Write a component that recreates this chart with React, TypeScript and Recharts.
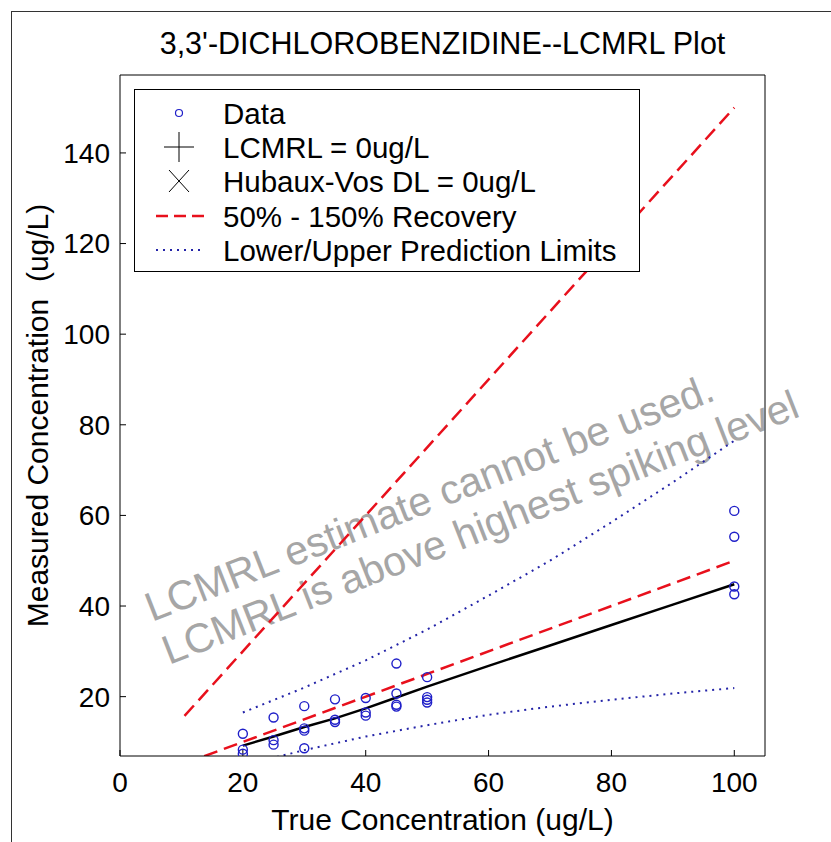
import { ComposedChart, Line, Scatter, XAxis, YAxis, Legend } from "recharts";

const FONT = '"Liberation Sans", Arial, Helvetica, sans-serif';

// replicate spikes: true concentration and measured result, ug/L
const SPIKE = [20, 20, 20, 25, 25, 25, 30, 30, 30, 30, 35, 35, 35, 40, 40, 40, 45, 45, 45, 45, 50, 50, 50, 50, 100, 100, 100, 100];
const MEASURED = [11.8, 8.3, 7.4, 15.4, 10.4, 9.4, 17.9, 13.0, 12.5, 8.6, 19.4, 14.9, 14.4, 19.7, 16.5, 15.8, 27.3, 20.7, 18.2, 17.8, 24.3, 19.9, 19.3, 18.7, 61.0, 55.3, 44.3, 42.6];

// fitted response
const FIT_X = [20, 25, 30, 35, 40, 45, 50, 60, 70, 80, 90, 100];
const FIT_Y = [9.2, 11.2, 13.3, 15.2, 17.4, 19.8, 22.2, 26.8, 31.3, 35.8, 40.3, 44.8];

// 50% / 150% recovery bounds
const RECOVERY_X = [10.5, 100];
const RECOVERY_LOW = [5.25, 50];
const RECOVERY_HIGH = [15.75, 150];

// prediction limits
const PL_X = [20, 30, 40, 50, 60, 70, 80, 90, 100];
const PL_UPPER = [16.5, 22.0, 28.0, 34.8, 42.3, 50.0, 58.5, 67.3, 76.5];
const PL_LOWER = [4.8, 8.2, 11.2, 13.7, 16.0, 17.8, 19.3, 20.7, 21.9];

const X_TICKS = [0, 20, 40, 60, 80, 100];
const Y_TICKS = [20, 40, 60, 80, 100, 120, 140];

const LEGEND_LABELS = [
  "Data",
  "LCMRL = 0ug/L",
  "Hubaux-Vos DL = 0ug/L",
  "50% - 150% Recovery",
  "Lower/Upper Prediction Limits",
];

const BLUE = "#1f1fc8";
const RED = "#e8101c";
const DOT_BLUE = "#2424a8";

const pairs = (xs: number[], ys: number[]) => xs.map((x, i) => ({ x, y: ys[i] }));

const dataPts = pairs(SPIKE, MEASURED);
const fit = pairs(FIT_X, FIT_Y);
const recLow = pairs(RECOVERY_X, RECOVERY_LOW);
const recHigh = pairs(RECOVERY_X, RECOVERY_HIGH);
const upper = pairs(PL_X, PL_UPPER);
const lower = pairs(PL_X, PL_LOWER);

const OpenCircle = (props: any) => (
  <circle cx={props.cx} cy={props.cy} r={4.5} fill="none" stroke={BLUE} strokeWidth={1.4} />
);

const LegendBox = () => {
  const rows = [23, 57, 91, 126, 160];
  const mx = 44;
  return (
    <div style={{ width: 506, height: 183, border: "1px solid #000", background: "#fff", boxSizing: "border-box" }}>
      <svg width={504} height={181} style={{ display: "block" }}>
        <circle cx={mx} cy={rows[0]} r={3.5} fill="none" stroke={BLUE} strokeWidth={1.2} />
        <line x1={mx - 15} x2={mx + 15} y1={rows[1]} y2={rows[1]} stroke="#000" />
        <line x1={mx} x2={mx} y1={rows[1] - 15} y2={rows[1] + 15} stroke="#000" />
        <line x1={mx - 10} x2={mx + 10} y1={rows[2] - 11} y2={rows[2] + 11} stroke="#000" />
        <line x1={mx - 10} x2={mx + 10} y1={rows[2] + 11} y2={rows[2] - 11} stroke="#000" />
        <line x1={21} x2={69} y1={rows[3]} y2={rows[3]} stroke={RED} strokeWidth={2.5} strokeDasharray="12 6" />
        <line x1={21} x2={69} y1={rows[4]} y2={rows[4]} stroke={DOT_BLUE} strokeWidth={2} strokeDasharray="2 5" />
        {LEGEND_LABELS.map((t, i) => (
          <text key={t} x={88} y={rows[i]} dominantBaseline="central" fontFamily={FONT} fontSize={29.5} fill="#000">
            {t}
          </text>
        ))}
      </svg>
    </div>
  );
};

export default function App() {
  const tickStyle = { fill: "#000", fontSize: 28, fontFamily: FONT };
  return (
    <div style={{ position: "relative", width: 831, height: 842, background: "#fff", overflow: "hidden" }}>
      <style>{`body{margin:0;overflow:hidden}`}</style>
      <div style={{ position: "absolute", left: 11, top: 11, width: 1000, height: 1000, border: "1px solid #333" }} />
      <div
        style={{
          position: "absolute",
          left: 120,
          width: 645,
          top: 25,
          textAlign: "center",
          fontFamily: FONT,
          fontSize: 30.5,
          lineHeight: "36px",
          color: "#000",
        }}
      >
        3,3'-DICHLOROBENZIDINE--LCMRL Plot
      </div>
      <svg width={831} height={842} style={{ position: "absolute", left: 0, top: 0 }}>
        <g fontFamily={FONT} fontSize={41} fill="#a6a6a6">
          <text x={152} y={622} transform="rotate(-21.5 152 622)">LCMRL estimate cannot be used.</text>
          <text x={169} y={665} transform="rotate(-21.5 169 665)">LCMRL is above highest spiking level</text>
        </g>
      </svg>
      <div style={{ position: "absolute", left: 0, top: 0 }}>
        <ComposedChart width={831} height={842} margin={{ top: 74, right: 65, bottom: 0, left: 0 }}>
          <XAxis
            xAxisId="b"
            type="number"
            dataKey="x"
            domain={[0, 105]}
            ticks={X_TICKS}
            height={86}
            tickSize={-6}
            tickMargin={22}
            tick={tickStyle}
            stroke="#000"
            axisLine={{ stroke: "#000" }}
            tickLine={{ stroke: "#000" }}
            label={{ value: "True Concentration (ug/L)", position: "insideBottom", offset: 12, fill: "#000", fontSize: 30, fontFamily: FONT }}
          />
          <XAxis
            xAxisId="t"
            orientation="top"
            type="number"
            dataKey="x"
            domain={[0, 105]}
            ticks={X_TICKS}
            height={1}
            tickSize={-6}
            tick={false}
            axisLine={{ stroke: "#000" }}
            tickLine={{ stroke: "#000" }}
          />
          <YAxis
            yAxisId="l"
            type="number"
            domain={[6.9, 157.2]}
            ticks={Y_TICKS}
            allowDataOverflow
            width={120}
            tickSize={-6}
            tickMargin={16}
            tick={tickStyle}
            axisLine={{ stroke: "#000" }}
            tickLine={{ stroke: "#000" }}
            label={{
              value: "Measured Concentration\u00a0 (ug/L)",
              angle: -90,
              position: "insideLeft",
              offset: 37,
              fill: "#000",
              fontSize: 30,
              fontFamily: FONT,
              style: { textAnchor: "middle" },
            }}
          />
          <YAxis
            yAxisId="r"
            orientation="right"
            type="number"
            domain={[6.9, 157.2]}
            ticks={Y_TICKS}
            allowDataOverflow
            width={1}
            tickSize={-6}
            tick={false}
            axisLine={{ stroke: "#000" }}
            tickLine={{ stroke: "#000" }}
          />
          <Line xAxisId="b" yAxisId="l" data={recHigh} dataKey="y" stroke={RED} strokeWidth={2.5} strokeDasharray="14 7" dot={false} isAnimationActive={false} />
          <Line xAxisId="b" yAxisId="l" data={recLow} dataKey="y" stroke={RED} strokeWidth={2.5} strokeDasharray="14 7" dot={false} isAnimationActive={false} />
          <Line xAxisId="b" yAxisId="l" data={upper} dataKey="y" stroke={DOT_BLUE} strokeWidth={2} strokeDasharray="2 5" dot={false} isAnimationActive={false} />
          <Line xAxisId="b" yAxisId="l" data={lower} dataKey="y" stroke={DOT_BLUE} strokeWidth={2} strokeDasharray="2 5" dot={false} isAnimationActive={false} />
          <Line xAxisId="b" yAxisId="l" data={fit} dataKey="y" stroke="#000" strokeWidth={2.5} dot={false} isAnimationActive={false} />
          <Scatter xAxisId="b" yAxisId="l" data={dataPts} dataKey="y" shape={OpenCircle} isAnimationActive={false} />
          <Legend
            layout="vertical"
            align="center"
            verticalAlign="middle"
            content={LegendBox}
            wrapperStyle={{ left: 134, top: 89, width: 506, height: 183 }}
          />
        </ComposedChart>
      </div>
    </div>
  );
}
